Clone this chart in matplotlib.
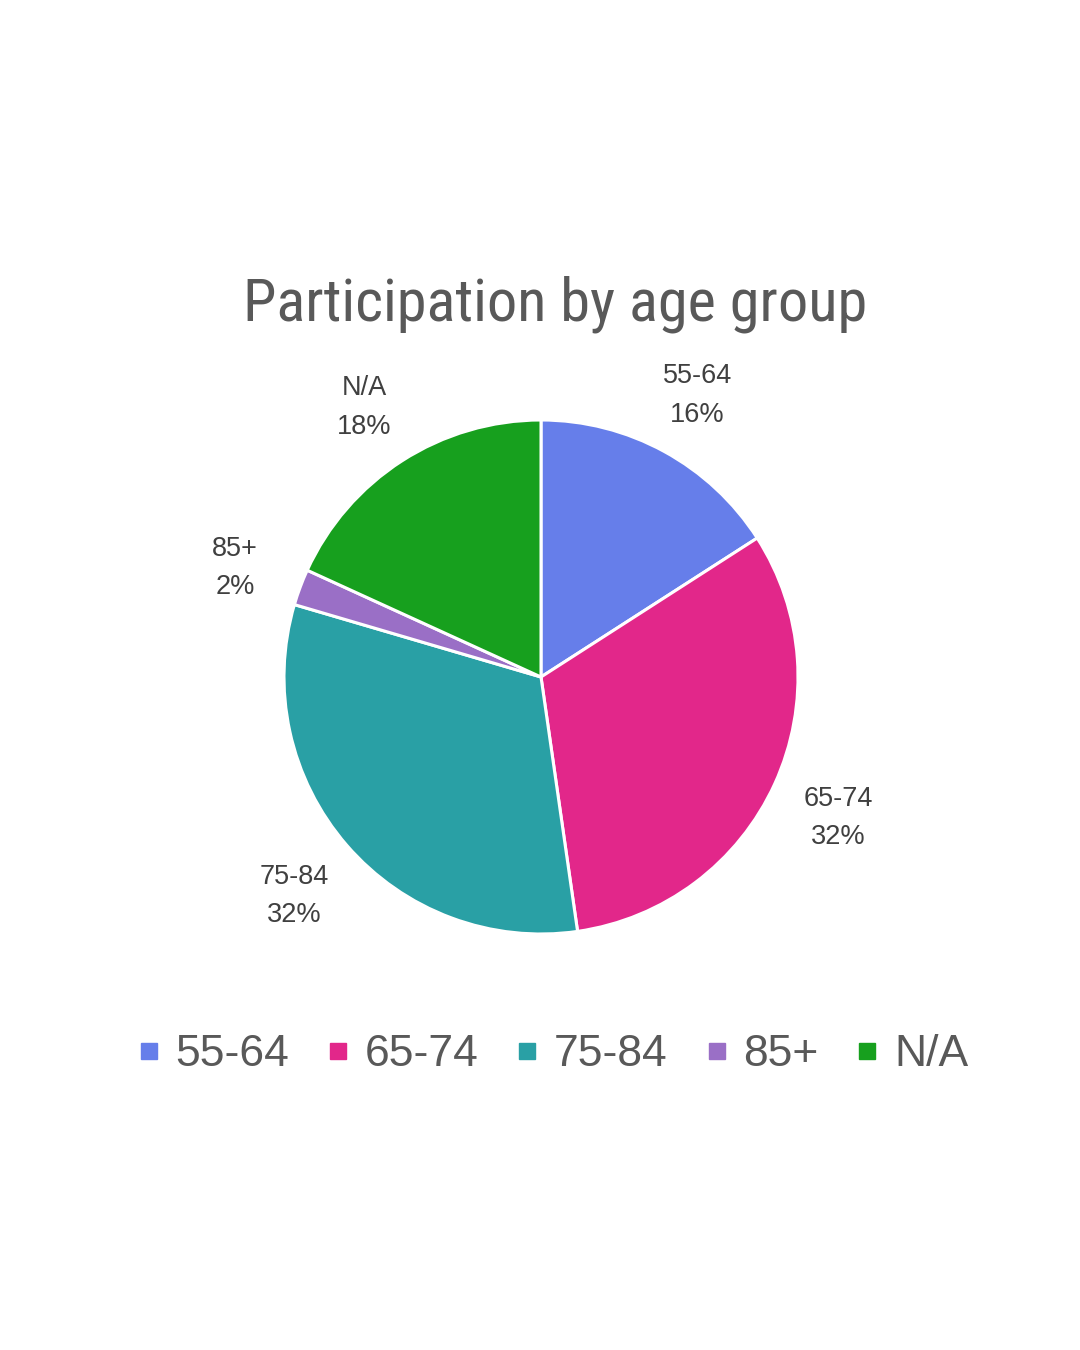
import matplotlib
matplotlib.use("Agg")
import matplotlib.pyplot as plt
import numpy as np
from matplotlib.lines import Line2D

# counts per age group (percentages round to 16/32/32/2/18)
groups = ["55-64", "65-74", "75-84", "85+", "N/A"]
counts = [7, 14, 14, 1, 8]
colors = ["#667eea", "#e2278a", "#29a0a5", "#9a6fc6", "#17a01e"]

TITLE = "Participation by age group"
TEXT_C = "#595959"
LABEL_C = "#404040"

fig = plt.figure(figsize=(10.8, 13.5), dpi=100)

# pie centre at (541, 677) px, radius ~257 px
cx, cy, R, half = 541, 677, 257, 320
ax = fig.add_axes([(cx - half) / 1080, (1350 - cy - half) / 1350,
                   2 * half / 1080, 2 * half / 1350])
lim = half / R

wedges, _ = ax.pie(counts, colors=colors, startangle=90, counterclock=False,
                   radius=1.0, center=(0, 0), frame=True,
                   wedgeprops=dict(edgecolor="white", linewidth=2.2))
ax.set_xlim(-lim, lim)
ax.set_ylim(-lim, lim)
ax.set_aspect("equal")
ax.axis("off")

total = sum(counts)
for w, g, c in zip(wedges, groups, counts):
    mid = np.deg2rad(0.5 * (w.theta1 + w.theta2))
    r = 1.27
    ax.text(r * np.cos(mid), r * np.sin(mid) - 0.02,
            f"{g}\n{round(100 * c / total)}%",
            ha="center", va="center", fontsize=19.5, color=LABEL_C,
            family=["Liberation Sans", "DejaVu Sans"], linespacing=1.62)

fig.text(0.514, 1 - 304 / 1350, TITLE, ha="center", va="center",
         fontsize=43.5, color=TEXT_C,
         family=["Liberation Sans Narrow", "Roboto Condensed", "DejaVu Sans"])

handles = [Line2D([], [], marker="s", ls="none", markersize=12,
                  markerfacecolor=c, markeredgecolor=c) for c in colors]
fig.legend(handles, groups, loc="center", bbox_to_anchor=(0.512, 1 - 1055 / 1350),
           ncol=5, frameon=False, labelcolor=TEXT_C,
           handlelength=0.5, handletextpad=0.35, columnspacing=0.85,
           prop=dict(family=["Liberation Sans", "DejaVu Sans"], size=32))

fig.savefig("out.png", dpi=100, facecolor="white")
